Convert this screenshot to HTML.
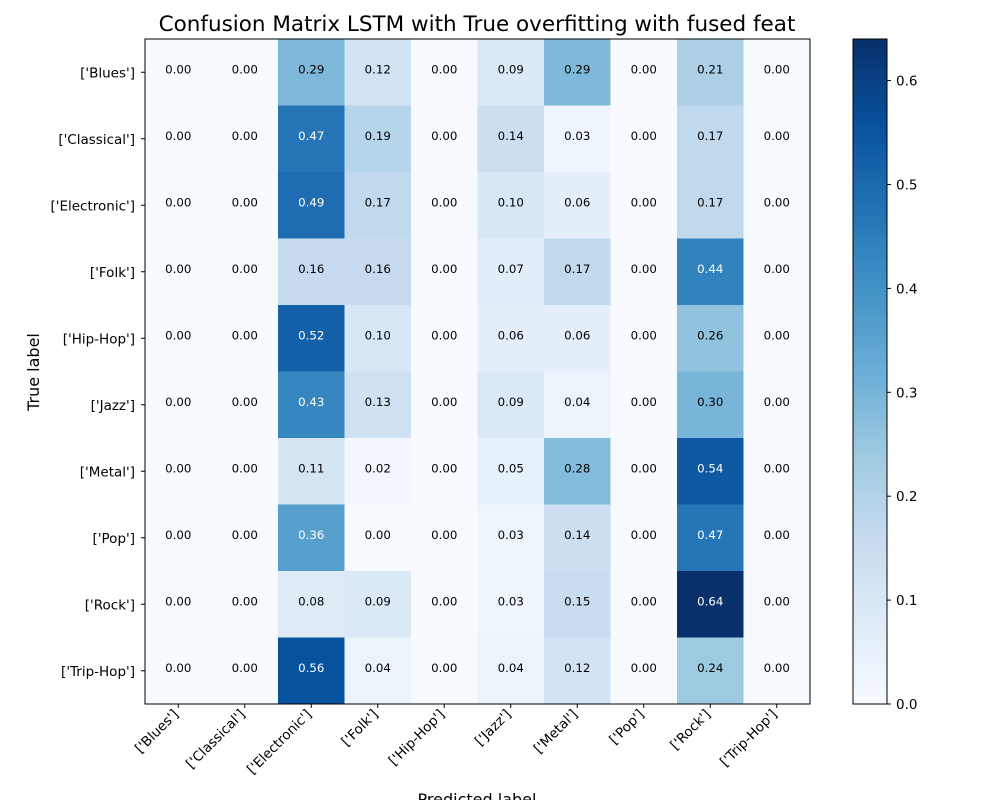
<!DOCTYPE html>
<html><head><meta charset="utf-8"><style>
body{margin:0;background:#fff;}
svg text{font-family:"DejaVu Sans","Liberation Sans",sans-serif;}
</style></head><body>
<svg id="chart" width="1000" height="800" viewBox="0 0 1000 800" xmlns="http://www.w3.org/2000/svg">
<rect width="1000" height="800" fill="#fff"/>
<text x="477" y="31" font-size="21.5" text-anchor="middle" fill="#000">Confusion Matrix LSTM with True overfitting with fused feat</text>
<text x="39" y="372" font-size="16" text-anchor="middle" transform="rotate(-90 39 372)">True label</text>
<text x="477" y="805" font-size="16" text-anchor="middle">Predicted label</text>
<g id="cells"></g><g id="xt"></g><g id="yt"></g><g id="cb"></g>
</svg>
<script>
const categories=["['Blues']","['Classical']","['Electronic']","['Folk']","['Hip-Hop']","['Jazz']","['Metal']","['Pop']","['Rock']","['Trip-Hop']"];
const row0=[0,0,0.29,0.12,0,0.09,0.29,0,0.21,0];
const row1=[0,0,0.47,0.19,0,0.14,0.03,0,0.17,0];
const row2=[0,0,0.49,0.17,0,0.10,0.06,0,0.17,0];
const row3=[0,0,0.16,0.16,0,0.07,0.17,0,0.44,0];
const row4=[0,0,0.52,0.10,0,0.06,0.06,0,0.26,0];
const row5=[0,0,0.43,0.13,0,0.09,0.04,0,0.30,0];
const row6=[0,0,0.11,0.02,0,0.05,0.28,0,0.54,0];
const row7=[0,0,0.36,0.00,0,0.03,0.14,0,0.47,0];
const row8=[0,0,0.08,0.09,0,0.03,0.15,0,0.64,0];
const row9=[0,0,0.56,0.04,0,0.04,0.12,0,0.24,0];
const matrix=[row0,row1,row2,row3,row4,row5,row6,row7,row8,row9];
const cbTicks=[0,0.1,0.2,0.3,0.4,0.5,0.6];
const NS="http://www.w3.org/2000/svg";
const X0=145,X1=810,Y0=39,Y1=704,n=categories.length;
const cw=(X1-X0)/n,ch=(Y1-Y0)/n;
const vmax=Math.max(...matrix.flat()),vmin=0;
const stops=["#f7fbff","#deebf7","#c6dbef","#9ecae1","#6baed6","#4292c6","#2171b5","#08519c","#08306b"];
function hx(h){return [1,3,5].map(i=>parseInt(h.substr(i,2),16));}
function cmap(v){let t=Math.max(0,Math.min(1,(v-vmin)/(vmax-vmin)))*8;let i=Math.min(7,Math.floor(t)),f=t-i;const a=hx(stops[i]),b=hx(stops[i+1]);return "rgb("+a.map((c,k)=>Math.round(c+(b[k]-c)*f)).join(",")+")";}
function xs(j){return X0+j*cw;} function ys(i){return Y0+i*ch;}
function el(tag,attrs,parent,txt){const e=document.createElementNS(NS,tag);for(const k in attrs)e.setAttribute(k,attrs[k]);if(txt!==undefined)e.textContent=txt;parent.appendChild(e);return e;}
const cells=document.getElementById('cells');
matrix.forEach((row,i)=>row.forEach((v,j)=>{
 const r=el('rect',{x:xs(j),y:ys(i),width:cw+0.5,height:ch+0.5,fill:cmap(v)},cells);
 
 
 const t=el('text',{x:xs(j)+cw/2,y:ys(i)+ch/2+1,'font-size':11.8,'text-anchor':'middle',fill:v>vmax/2?'#fff':'#000'},cells,v.toFixed(2));
 
 
}));
el('rect',{x:X0,y:Y0,width:X1-X0,height:Y1-Y0,fill:'none',stroke:'#000','stroke-width':1},cells);
const xt=document.getElementById('xt'),yt=document.getElementById('yt');
categories.forEach((c,k)=>{
 const cx=xs(k)+cw/2;
 el('line',{x1:cx,y1:Y1,x2:cx,y2:Y1+4,stroke:'#000'},xt);
 const t=el('text',{x:cx+1,y:Y1+11,'font-size':13.5,'text-anchor':'end',transform:`rotate(-45 ${cx+1} ${Y1+11})`},xt,c);
 
 
 const cy=ys(k)+ch/2;
 el('line',{x1:X0-4,y1:cy,x2:X0,y2:cy,stroke:'#000'},yt);
 const u=el('text',{x:X0-10,y:cy+5,'font-size':13.5,'text-anchor':'end'},yt,c);
 
 
});
const cb=document.getElementById('cb');
const CX=853,CW=34,N=200;
for(let s=0;s<N;s++){const v=vmin+(vmax-vmin)*(s+0.5)/N;const h=(Y1-Y0)/N;el('rect',{x:CX,y:Y1-(s+1)*h,width:CW,height:h+0.6,fill:cmap(v)},cb);}
el('rect',{x:CX,y:Y0,width:CW,height:Y1-Y0,fill:'none',stroke:'#000'},cb);


cbTicks.forEach(v=>{const y=Y1-(v-vmin)/(vmax-vmin)*(Y1-Y0);
 el('line',{x1:CX+CW,y1:y,x2:CX+CW+4,y2:y,stroke:'#000'},cb);
 const t=el('text',{x:CX+CW+9,y:y+5,'font-size':13.5},cb,v.toFixed(1));
 
 
});
</script>
</body></html>
